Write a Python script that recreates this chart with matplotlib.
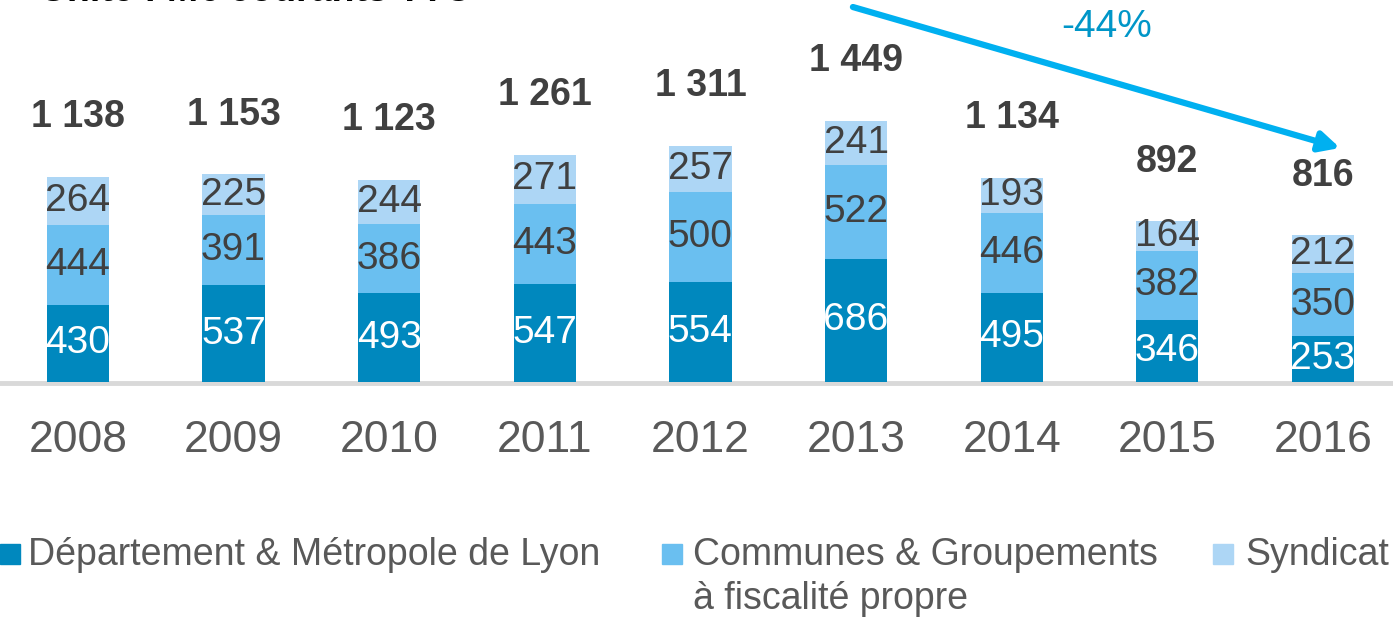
import numpy as np
import matplotlib.pyplot as plt
from matplotlib.patches import Rectangle

plt.rcParams['font.family'] = ['Liberation Sans', 'DejaVu Sans']

# Data (M€ courants TTC)
years = ['2008', '2009', '2010', '2011', '2012', '2013', '2014', '2015', '2016']
departement = [430, 537, 493, 547, 554, 686, 495, 346, 253]
communes = [444, 391, 386, 443, 500, 522, 446, 382, 350]
syndicats = [264, 225, 244, 271, 257, 241, 193, 164, 212]
totals = ['1 138', '1 153', '1 123', '1 261', '1 311', '1 449', '1 134', '892', '816']
legend_labels = ['Département & Métropole de Lyon',
                 'Communes & Groupements\nà fiscalité propre',
                 'Syndicat']
colors = ['#0088BE', '#6ABFF0', '#ADD6F5']
label_colors = ['white', '#404040', '#404040']

W, H = 1393, 621
fig = plt.figure(figsize=(W / 100, H / 100), dpi=100)

def fx(px):
    return px / W

def fy(py):
    return 1 - py / H

# axes: baseline at 382 px from top, full width
ax = fig.add_axes([0, fy(382), 1, 382 / H])
ax.set_xlim(-0.5, 8.45)
ax.set_ylim(0, 2122)

x = np.arange(len(years))
series = [departement, communes, syndicats]
bottom = np.zeros(len(years))
for vals, col, lcol in zip(series, colors, label_colors):
    vals = np.array(vals)
    ax.bar(x, vals, bottom=bottom, width=0.4, color=col, zorder=3)
    for xi, b, v in zip(x, bottom, vals):
        ax.text(xi, b + v / 2, str(v), ha='center', va='center',
                fontsize=28, color=lcol, zorder=4)
    bottom = bottom + vals

# totals above bars
for xi, top, t in zip(x, bottom, totals):
    ax.annotate(t, (xi, top), xytext=(0, 43), textcoords='offset points',
                ha='center', va='center', fontsize=27, fontweight='bold',
                color='#404040')

# baseline
ax.axhline(-8, color='#D9D9D9', lw=3.5, zorder=2, clip_on=False)

for s in ax.spines.values():
    s.set_visible(False)
ax.set_yticks([])
ax.set_xticks(x)
ax.set_xticklabels(years, fontsize=32, color='#595959')
ax.tick_params(axis='x', length=0, pad=27)

# trend arrow
ax.annotate('', xy=(8.11, 1300), xytext=(4.98, 2083),
            arrowprops=dict(arrowstyle='-|>', color='#00B0F0', lw=4.5,
                            mutation_scale=30, shrinkA=0, shrinkB=0),
            annotation_clip=False)
fig.text(fx(1107), fy(27), '-44%', ha='center', va='center',
         fontsize=28, color='#0096C8')

# title (cut off at top, as in the source)
fig.text(fx(40), fy(1), 'Unité : M€ courants TTC', ha='left', va='baseline',
         fontsize=27, fontweight='bold', color='black')

# legend
key_x = [0, 662, 1213]
text_x = [28, 693, 1245]
for kx, tx, col, lab in zip(key_x, text_x, colors, legend_labels):
    fig.patches.append(Rectangle((fx(kx), fy(564)), fx(20), 20 / H,
                                 transform=fig.transFigure, color=col))
    fig.text(fx(tx), fy(537), lab, ha='left', va='top', fontsize=27,
             color='#595959', linespacing=1.3)

fig.savefig('out.png', dpi=100)
